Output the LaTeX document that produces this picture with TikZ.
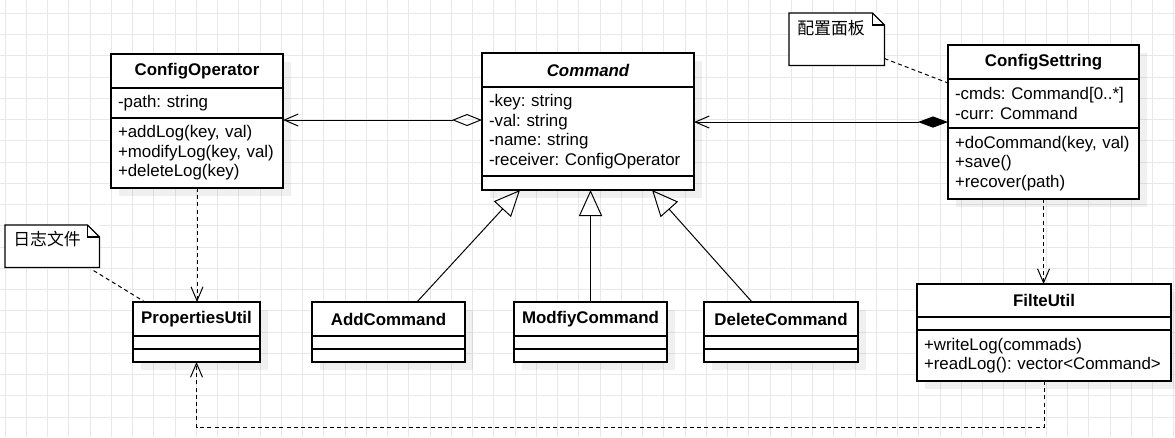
\documentclass[tikz,border=0pt]{standalone}
\usepackage{fontspec}
\setmainfont{Liberation Sans}
\newfontfamily\cjk{Noto Sans CJK SC}
\usetikzlibrary{arrows.meta}
\usetikzlibrary{positioning,shadows}
\frenchspacing

\tikzset{
	gridline/.style={black!9, line width=0.6pt},
	clsbox/.style={draw, fill=white, line width=0.9pt, inner sep=0pt, outer sep=0pt,
		drop shadow={shadow xshift=0.2cm, shadow yshift=-0.2cm, fill=black, opacity=0.06}},
	clshead/.style={clsbox, anchor=north west, minimum height=0.85cm,
		font=\fontsize{12}{13.8}\selectfont\bfseries},
	clspart/.style={clsbox, below=0pt of #1, inner xsep=0.175cm, align=left},
	assoc/.style={line width=0.7pt},
	aggr/.style={assoc, {Diamond[open,length=0.75cm,width=0.3cm]}-{Straight Barb[length=0.35cm,width=0.3cm]}},
	compo/.style={assoc, {Diamond[length=0.75cm,width=0.28cm]}-{Straight Barb[length=0.35cm,width=0.3cm]}},
	inherit/.style={assoc, -{Triangle[open,length=0.65cm,width=0.58cm]}},
	depend/.style={assoc, dash pattern=on 0.1cm off 0.08cm, -{Straight Barb[length=0.35cm,width=0.3cm]}},
	notelink/.style={assoc, dash pattern=on 0.1cm off 0.08cm},
	notebox/.style={fill=white, inner xsep=0.2cm, inner ysep=0pt, anchor=north west, align=left,
		font=\fontsize{12}{13.8}\cjk},
	noteline/.style={line width=0.9pt}
}

\begin{document}
\begin{tikzpicture}[x=0.025cm, y=-0.025cm, font=\fontsize{12}{13.8}\selectfont]
\useasboundingbox (0,0) rectangle (1175,437);
\fill[white] (0,0) rectangle (1175,437);
\foreach \i in {0,...,55}
	\draw[gridline] (5+21.25*\i,0) -- (5+21.25*\i,437);
\foreach \j in {0,...,19}
	\draw[gridline] (0,13.3+21.25*\j) -- (1175,13.3+21.25*\j);

\node[clshead, minimum width=4.3cm] (opH) at (111,54) {ConfigOperator};
\node[clspart=opH, text width=3.95cm, minimum height=0.75cm] (opA) {-path: string};
\node[clspart=opA, text width=3.95cm, minimum height=1.75cm] (opM)
	{+addLog(key, val)\\+modifyLog(key, val)\\+deleteLog(key)};

\node[clshead, minimum width=5.3cm, font=\fontsize{12}{13.8}\selectfont\bfseries\itshape] (cmdH) at (482,53) {Command};
\node[clspart=cmdH, text width=4.95cm, minimum height=2.225cm] (cmdA)
	{-key: string\\-val: string\\-name: string\\-receiver: ConfigOperator};
\node[clspart=cmdA, text width=4.95cm, minimum height=0.35cm] (cmdM) {};

\node[clshead, minimum width=4.775cm] (setH) at (948,45) {ConfigSettring};
\node[clspart=setH, text width=4.425cm, minimum height=1.225cm] (setA)
	{-cmds: Command[0..*]\\-curr: Command};
\node[clspart=setA, text width=4.425cm, minimum height=1.775cm] (setM)
	{+doCommand(key, val)\\+save()\\+recover(path)};

\node[clshead, minimum width=3.175cm] (propH) at (133,302) {PropertiesUtil};
\node[clspart=propH, text width=2.825cm, minimum height=0.325cm] (propA) {};
\node[clspart=propA, text width=2.825cm, minimum height=0.325cm] (propM) {};

\node[clshead, minimum width=3.825cm] (addH) at (312,302) {AddCommand};
\node[clspart=addH, text width=3.475cm, minimum height=0.325cm] (addA) {};
\node[clspart=addA, text width=3.475cm, minimum height=0.325cm] (addM) {};

\node[clshead, minimum width=3.825cm] (modH) at (514,302) {ModfiyCommand};
\node[clspart=modH, text width=3.475cm, minimum height=0.325cm] (modA) {};
\node[clspart=modA, text width=3.475cm, minimum height=0.325cm] (modM) {};

\node[clshead, minimum width=3.85cm] (delH) at (704,302) {DeleteCommand};
\node[clspart=delH, text width=3.5cm, minimum height=0.325cm] (delA) {};
\node[clspart=delA, text width=3.5cm, minimum height=0.325cm] (delM) {};

\node[clshead, minimum width=6.35cm, minimum height=0.825cm] (filH) at (917,284) {FilteUtil};
\node[clspart=filH, text width=6cm, minimum height=0.325cm] (filA) {};
\node[clspart=filA, text width=6cm, minimum height=1.275cm] (filM)
	{+writeLog(commads)\\+readLog(): vector<Command>};

\node[notebox, text width=1.975cm, text height=0.54cm, text depth=0.76cm] (cfgNote) at (789,13) {配置面板};
\draw[noteline] (cfgNote.south west) -- (cfgNote.north west) -- ([xshift=-0.3cm]cfgNote.north east)
	-- ([yshift=-0.3cm]cfgNote.north east) -- (cfgNote.south east) -- cycle;
\draw[noteline] ([xshift=-0.3cm]cfgNote.north east) |- ([yshift=-0.3cm]cfgNote.north east);

\node[notebox, text width=1.95cm, text height=0.51cm, text depth=0.54cm] (logNote) at (5,225) {日志文件};
\draw[noteline] (logNote.south west) -- (logNote.north west) -- ([xshift=-0.3cm]logNote.north east)
	-- ([yshift=-0.3cm]logNote.north east) -- (logNote.south east) -- cycle;
\draw[noteline] ([xshift=-0.3cm]logNote.north east) |- ([yshift=-0.3cm]logNote.north east);

\draw[aggr] ([yshift=-0.05cm]cmdA.west |- opM.north) -- ([yshift=-0.05cm]opM.north east);
\draw[compo] ([yshift=0.15cm]setA.south west) -- ([yshift=0.15cm]setA.south west -| cmdA.east);

\draw[inherit] ([xshift=0.71cm]addH.north) -- ([xshift=-1.7cm]cmdM.south);
\draw[inherit] (modH.north) -- (modH.north |- cmdM.south);
\draw[inherit] ([xshift=-0.725cm]delH.north) -- ([xshift=1.6cm]cmdM.south);

\draw[depend] (opM.south) -- (opM.south |- propH.north);
\draw[depend] (setM.south) -- (setM.south |- filH.north);
\draw[depend] (filM.south) -- ++(0,-1.15cm) -| (propM.south);

\draw[notelink] ([yshift=0.175cm]cfgNote.south east) -- ([yshift=-0.1cm]setA.north west);
\draw[notelink] ([shift={(-0.15cm,-0.075cm)}]logNote.south east) -- ([xshift=0.3cm]propH.north west);
\end{tikzpicture}
\end{document}
